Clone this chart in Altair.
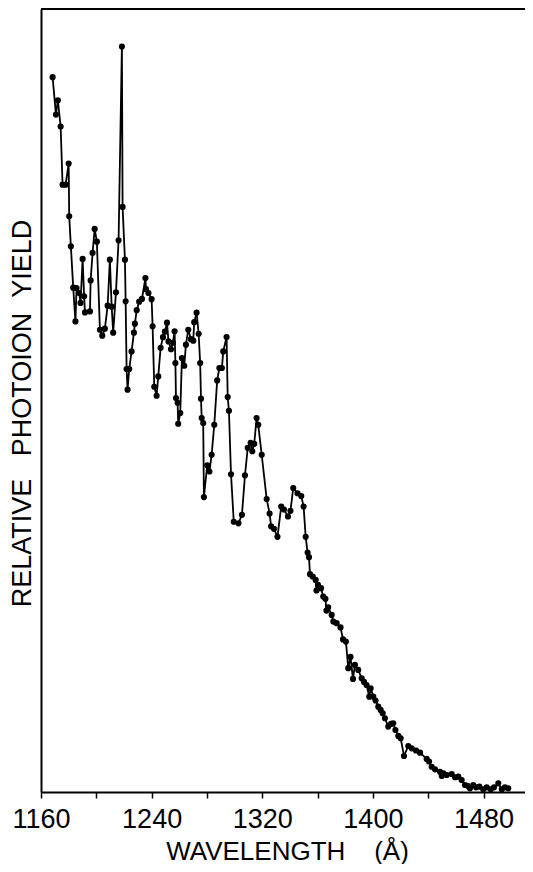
import altair as alt
import pandas as pd

# Wavelength (Angstrom) and relative photoion yield (arbitrary units, 0-100)
wavelength = [
    1168.4, 1170.8, 1172.2, 1174.2, 1175.6, 1177.8, 1180.0, 1180.4, 1181.6, 1183.3,
    1184.9, 1185.7, 1187.6, 1188.6, 1190.1, 1191.2, 1191.8, 1195.4, 1195.9, 1197.3,
    1198.8, 1200.4, 1202.6, 1204.3, 1206.2, 1208.2, 1209.8, 1211.1, 1212.2, 1214.2,
    1216.1, 1218.5, 1219.0, 1220.7, 1221.2, 1221.9, 1222.6, 1223.8, 1225.5, 1227.2,
    1227.9, 1229.2, 1231.0, 1233.0, 1235.5, 1235.9, 1237.7, 1240.0, 1240.7, 1241.9,
    1243.6, 1244.8, 1246.5, 1248.2, 1249.6, 1251.1, 1252.2, 1254.0, 1255.4, 1256.6,
    1257.2, 1257.6, 1258.8, 1259.2, 1260.7, 1261.9, 1263.6, 1264.8, 1266.5, 1268.4,
    1270.1, 1270.8, 1272.5, 1274.0, 1275.1, 1275.7, 1276.2, 1277.3, 1277.8, 1280.2,
    1281.8, 1283.4, 1285.3, 1287.4, 1289.0, 1290.8, 1291.8, 1294.2, 1295.0, 1295.9,
    1297.4, 1299.4, 1302.8, 1305.3, 1307.5, 1309.5, 1311.6, 1312.8, 1314.2, 1315.9,
    1317.1, 1319.6, 1323.2, 1325.3, 1326.4, 1328.5, 1331.0, 1333.7, 1335.7, 1338.6,
    1340.4, 1342.4, 1345.5, 1348.2, 1349.9, 1351.4, 1352.8, 1353.8, 1354.5, 1356.5,
    1358.6, 1359.2, 1360.3, 1362.5, 1364.1, 1365.7, 1366.4, 1367.7, 1370.2, 1371.4,
    1373.8, 1376.6, 1378.4, 1380.5, 1382.2, 1383.8, 1385.6, 1387.0, 1389.4, 1391.9,
    1393.6, 1395.4, 1397.4, 1398.4, 1400.3, 1401.9, 1403.9, 1405.6, 1407.1, 1408.7,
    1411.1, 1413.1, 1414.7, 1416.3, 1418.4, 1420.1, 1422.5, 1425.6, 1428.1, 1431.2,
    1434.1, 1438.9, 1440.6, 1442.5, 1444.9, 1448.5, 1449.8, 1450.9, 1453.4, 1457.0,
    1459.4, 1461.8, 1464.2, 1466.6, 1468.8, 1470.2, 1472.6, 1474.6, 1477.0, 1479.8,
    1482.3, 1485.2, 1487.6, 1490.7, 1493.2, 1495.5, 1497.9,
]

yields = [
    91.29, 86.52, 88.35, 84.99, 77.57, 77.57, 80.26, 73.52, 69.69, 64.41,
    60.10, 64.37, 63.73, 62.46, 68.08, 63.30, 61.25, 61.38, 65.34, 68.85,
    71.91, 70.29, 59.04, 58.28, 59.17, 62.11, 67.99, 61.98, 58.66, 63.81,
    70.46, 95.21, 74.72, 67.99, 62.66, 54.02, 51.38, 54.02, 56.27, 58.66,
    59.81, 61.54, 62.62, 62.97, 65.63, 64.22, 63.73, 62.94, 59.47, 51.76,
    50.61, 53.08, 56.74, 58.09, 58.79, 59.94, 57.55, 56.55, 57.38, 58.83,
    54.79, 50.31, 49.71, 47.03, 48.40, 55.43, 54.44, 57.13, 59.04, 57.83,
    57.64, 60.00, 61.22, 58.53, 54.79, 50.23, 47.76, 47.12, 37.66, 41.73,
    40.93, 43.07, 46.90, 52.56, 54.15, 54.15, 56.27, 58.11, 50.44, 48.69,
    40.58, 34.51, 34.31, 35.40, 40.45, 43.96, 44.60, 43.52, 44.47, 47.76,
    46.90, 43.07, 37.41, 35.57, 33.93, 33.61, 32.59, 36.46, 36.08, 35.18,
    35.91, 38.81, 38.15, 37.79, 36.46, 32.59, 30.58, 29.99, 27.82, 27.52,
    27.09, 25.73, 26.45, 26.03, 24.96, 24.67, 23.17, 23.60, 22.62, 21.76,
    21.56, 21.02, 19.49, 19.21, 15.81, 17.25, 14.44, 16.23, 15.59, 14.53,
    14.06, 13.67, 12.18, 13.25, 12.18, 11.69, 10.90, 10.48, 10.06, 9.42,
    8.35, 8.69, 8.78, 7.92, 7.16, 6.86, 4.60, 5.88, 5.58, 5.30,
    5.02, 4.22, 3.90, 3.23, 2.90, 2.59, 2.04, 2.39, 2.17, 2.30,
    1.88, 1.96, 1.53, 0.89, 0.77, 0.47, 0.89, 0.60, 0.68, 0.35,
    0.60, 0.35, 0.60, 1.11, 0.35, 0.60, 0.47,
]

tick_values = [1160, 1200, 1240, 1280, 1320, 1360, 1400, 1440, 1480]
x_domain = [1160, 1510]
y_domain = [0, 100]
x_title = "WAVELENGTH\u00a0\u00a0\u00a0\u00a0(Å)"
y_title = "RELATIVE\u00a0\u00a0\u00a0PHOTOION\u00a0\u00a0YIELD"

df = pd.DataFrame({"wavelength": wavelength, "yield": yields})

W, H = 484, 783
FONT = "Liberation Sans"

x_axis = alt.Axis(
    values=tick_values,
    format="d",
    labelExpr="(datum.value - 1160) % 80 == 0 ? datum.label : ''",
    ticks=True, tickSize=6, tickWidth=1.5, tickColor="black",
    domainColor="black", domainWidth=2,
    labelFont=FONT, labelFontSize=27, labelColor="black",
    labelBaseline="alphabetic", labelPadding=29,
    labelOverlap=False, labelFlush=False, grid=False,
    title=x_title, titleFont=FONT, titleFontSize=26, titleFontWeight="normal",
    titleColor="black", titleX=246, titleY=67, titleAlign="center",
    titleBaseline="alphabetic",
)

y_axis = alt.Axis(
    labels=False, ticks=False, grid=False,
    domainColor="black", domainWidth=2,
    title=y_title, titleFont=FONT, titleFontSize=27, titleFontWeight="normal",
    titleColor="black", titleAngle=270, titleX=-19, titleY=404,
    titleAlign="center", titleBaseline="middle",
)

base = alt.Chart(df).encode(
    x=alt.X("wavelength:Q", scale=alt.Scale(domain=x_domain, nice=False, zero=False), axis=x_axis),
    y=alt.Y("yield:Q", scale=alt.Scale(domain=y_domain, nice=False, zero=False), axis=y_axis),
)

line = base.mark_line(color="black", strokeWidth=1.8)
pts = base.mark_circle(color="black", size=38, opacity=1)

top = alt.Chart(alt.Data(values=[{}])).mark_rule(color="black", strokeWidth=2).encode(
    y=alt.value(0), x=alt.value(0), x2=alt.value(W)
)

chart = alt.layer(line, pts, top).properties(
    width=W, height=H,
    padding={"left": 33, "top": 1, "right": 0, "bottom": 72},
    autosize=alt.AutoSizeParams(type="none"),
    background="white",
).configure_view(stroke=None)

chart.save("out.html", embed_options={"renderer": "svg", "actions": False})
